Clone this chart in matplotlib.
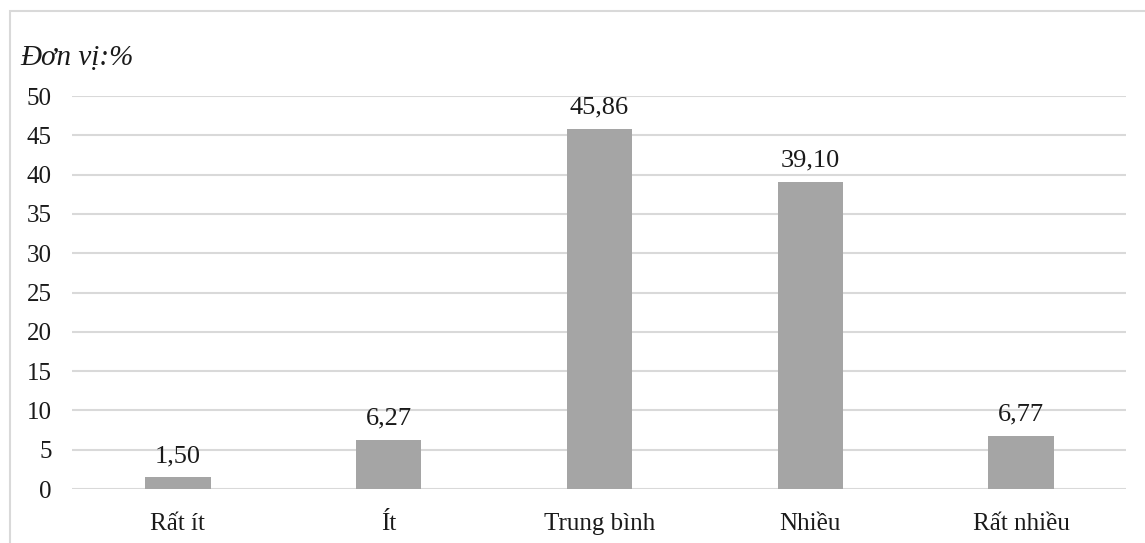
import matplotlib.pyplot as plt
from matplotlib.patches import Rectangle

categories = ["Rất ít", "Ít", "Trung bình", "Nhiều", "Rất nhiều"]
values = [1.50, 6.27, 45.86, 39.10, 6.77]
labels = ["1,50", "6,27", "45,86", "39,10", "6,77"]

plt.rcParams['font.family'] = ['Liberation Serif', 'DejaVu Serif']

fig = plt.figure(figsize=(11.45, 5.43), dpi=100)
ax = fig.add_axes([0.0633, 0.0994, 0.9205, 0.7238])

# cadre gris clair (seulement haut et gauche visibles)
fig.patches.append(Rectangle((10 / 1145, -0.1), 1.2, 1 - 11 / 543 + 0.1,
                             transform=fig.transFigure, fill=False,
                             edgecolor='#d9d9d9', linewidth=1.5))

x = range(len(categories))
bars = ax.bar(x, values, width=0.31, color='#a5a5a5', zorder=3)
for b, lab in zip(bars, labels):
    ax.text(b.get_x() + b.get_width() / 2, b.get_height() + 1.3, lab,
            ha='center', va='bottom', fontsize=19, color='#1a1a1a')

ax.set_xlim(-0.5, len(categories) - 0.5)
ax.set_ylim(0, 50)
ax.set_yticks(range(0, 51, 5))
ax.set_xticks(list(x))
ax.set_xticklabels(categories)
ax.tick_params(axis='both', length=0, labelsize=18, colors='#1a1a1a')
ax.tick_params(axis='y', pad=15)
ax.tick_params(axis='x', pad=17)
ax.grid(axis='y', color='#d9d9d9', linewidth=1.5, zorder=0)
for s in ax.spines.values():
    s.set_visible(False)

fig.text(20 / 1145, 1 - 58 / 543, "Đơn vị:%", fontsize=21, style='italic',
         ha='left', va='center', color='#1a1a1a')

fig.savefig('out.png', dpi=100)
